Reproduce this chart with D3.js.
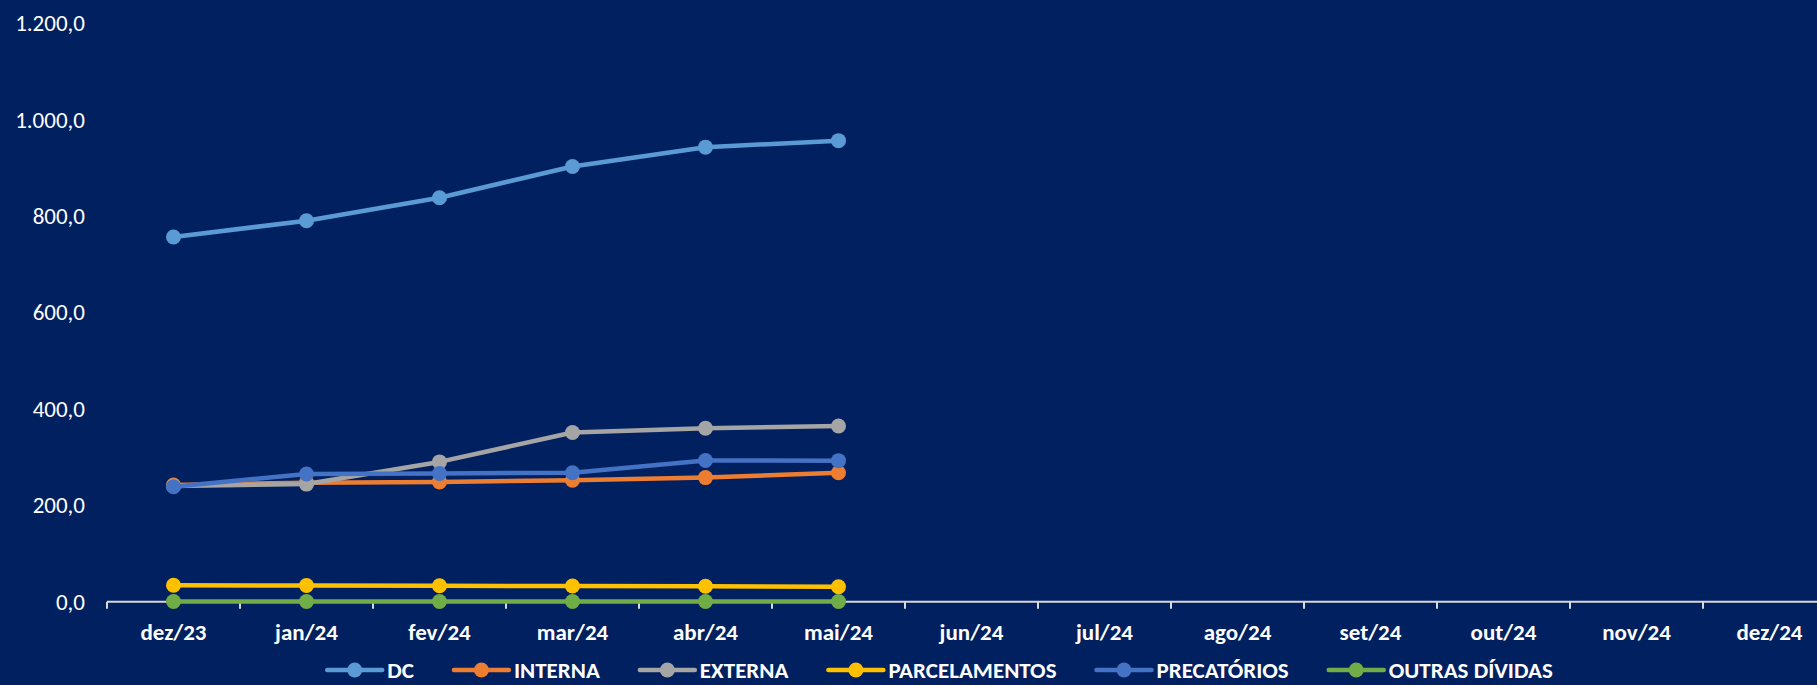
<!DOCTYPE html>
<html>
<head>
<meta charset="utf-8">
<script src="https://cdn.jsdelivr.net/npm/d3@7"></script>
<style>
  html, body { margin: 0; padding: 0; background: #002060; overflow: hidden; }
  svg { display: block; }
</style>
</head>
<body>
<div id="chart"></div>
<script>
const months = ['dez/23','jan/24','fev/24','mar/24','abr/24','mai/24','jun/24','jul/24','ago/24','set/24','out/24','nov/24','dez/24'];
const yTicks = [0, 200, 400, 600, 800, 1000, 1200];

const seriesNames = ['DC','INTERNA','EXTERNA','PARCELAMENTOS','PRECATÓRIOS','OUTRAS DÍVIDAS'];
const seriesColors = ['#5B9BD5','#ED7D31','#A5A5A5','#FFC000','#4472C4','#70AD47'];
const dc = [756.6, 790.5, 838.0, 903.0, 943.0, 956.5];
const interna = [242.0, 247.0, 248.5, 252.0, 257.5, 267.6];
const externa = [240.0, 244.0, 290.0, 351.0, 360.0, 364.5];
const parcelamentos = [34.0, 33.5, 33.0, 32.5, 32.0, 31.0];
const precatorios = [238.6, 265.0, 266.0, 267.6, 293.0, 292.6];
const outras = [0.5, 0.5, 0.5, 0.5, 0.5, 0.3];

const seriesValues = [dc, interna, externa, parcelamentos, precatorios, outras];

const W = 1817, H = 685;
const fontFamily = "Carlito, 'Liberation Sans', Arial, sans-serif";

const svg = d3.select('#chart').append('svg')
    .attr('width', W)
    .attr('height', H);

svg.append('rect').attr('width', W).attr('height', H).attr('fill', '#002060');

const x = d3.scaleBand().domain(months).range([107, 107 + 13 * 133]);
const y = d3.scaleLinear().domain([0, 1200]).range([601.7, 23.3]);

const br = d3.formatLocale({decimal: ',', thousands: '.', grouping: [3], currency: ['R$', '']});
const fmt = br.format(',.1f');

// y axis: labels only
const yAxis = svg.append('g')
    .attr('transform', 'translate(107,0)')
    .call(d3.axisLeft(y).tickValues(yTicks).tickFormat(fmt).tickSize(0).tickPadding(22));
yAxis.select('.domain').remove();
yAxis.selectAll('text')
    .attr('fill', '#FFFFFF')
    .attr('font-family', fontFamily)
    .attr('font-size', '23px');

// x axis line and boundary ticks
const xAxis = svg.append('g').attr('transform', `translate(0,${y(0)})`);
xAxis.append('line')
    .attr('x1', x.range()[0]).attr('x2', W + 5)
    .attr('stroke', '#D9D9D9').attr('stroke-width', 2);
xAxis.selectAll('line.tick')
    .data(months.concat(['end']))
    .join('line')
    .attr('class', 'tick')
    .attr('x1', (d, i) => x.range()[0] + i * x.step())
    .attr('x2', (d, i) => x.range()[0] + i * x.step())
    .attr('y1', 0).attr('y2', 7)
    .attr('stroke', '#D9D9D9').attr('stroke-width', 2);
xAxis.selectAll('text')
    .data(months)
    .join('text')
    .attr('x', d => x(d) + x.bandwidth() / 2)
    .attr('y', 38)
    .attr('text-anchor', 'middle')
    .attr('fill', '#FFFFFF')
    .attr('font-family', fontFamily)
    .attr('font-weight', 'bold')
    .attr('font-size', '23px')
    .text(d => d);

// lines
const line = d3.line()
    .x((d, i) => x(months[i]) + x.bandwidth() / 2)
    .y(d => y(d));

const plot = svg.append('g');
seriesValues.forEach((vals, s) => {
    const g = plot.append('g');
    g.append('path')
        .datum(vals)
        .attr('fill', 'none')
        .attr('stroke', seriesColors[s])
        .attr('stroke-width', 4.5)
        .attr('stroke-linejoin', 'round')
        .attr('d', line);
    g.selectAll('circle')
        .data(vals)
        .join('circle')
        .attr('cx', (d, i) => x(months[i]) + x.bandwidth() / 2)
        .attr('cy', d => y(d))
        .attr('r', 7.5)
        .attr('fill', seriesColors[s]);
});

// legend
const legend = svg.append('g').attr('transform', 'translate(0,670)');
const items = legend.selectAll('g')
    .data(seriesNames)
    .join('g');
items.append('line')
    .attr('x1', 0).attr('x2', 55)
    .attr('stroke', (d, i) => seriesColors[i])
    .attr('stroke-width', 4.5)
    .attr('stroke-linecap', 'round');
items.append('circle')
    .attr('cx', 27.5).attr('r', 7.5)
    .attr('fill', (d, i) => seriesColors[i]);
items.append('text')
    .attr('x', 60)
    .attr('dy', '0.36em')
    .attr('fill', '#FFFFFF')
    .attr('font-family', fontFamily)
    .attr('font-weight', 'bold')
    .attr('font-size', '23px')
    .text(d => d);

const widths = [];
items.each(function () { widths.push(60 + d3.select(this).select('text').node().getComputedTextLength()); });
const gap = 40;
const total = d3.sum(widths) + gap * (widths.length - 1);
let cx = 940 - total / 2;
items.attr('transform', (d, i) => {
    const t = `translate(${cx},0)`;
    cx += widths[i] + gap;
    return t;
});
</script>
</body>
</html>
